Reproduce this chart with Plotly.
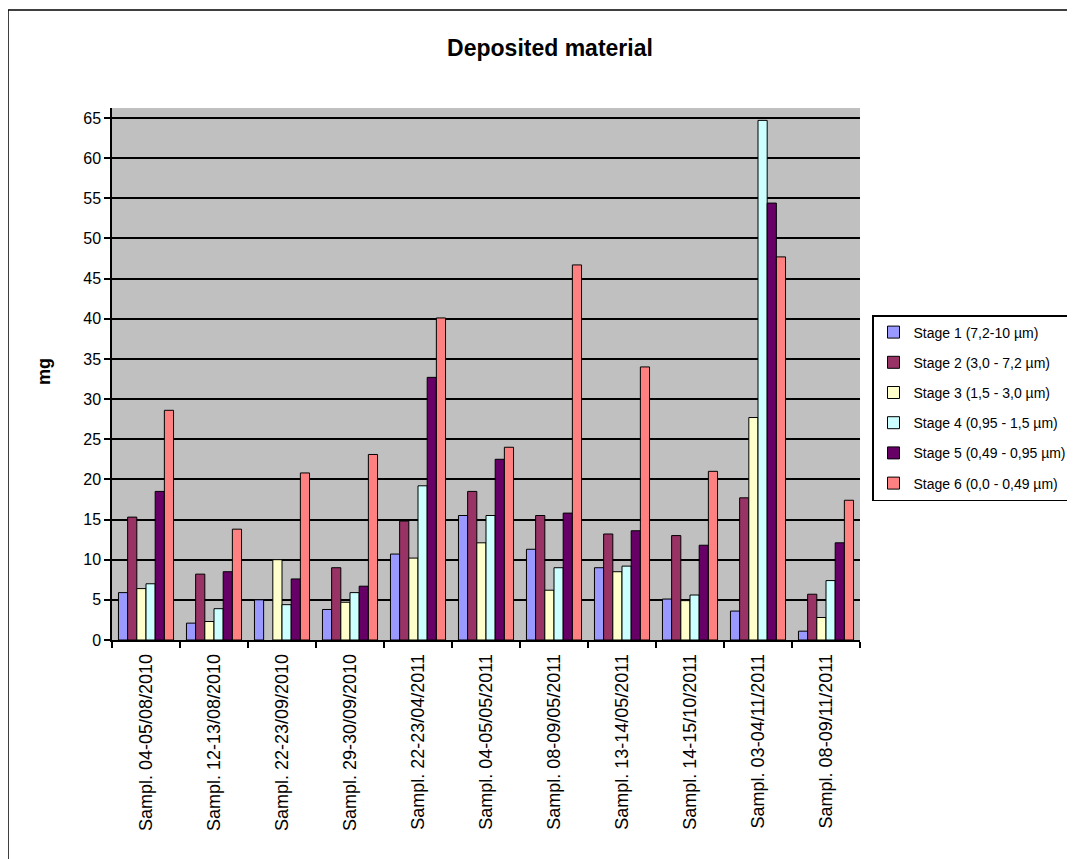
import plotly.graph_objects as go

categories = ["Sampl. 04-05/08/2010", "Sampl. 12-13/08/2010", "Sampl. 22-23/09/2010",
              "Sampl. 29-30/09/2010", "Sampl. 22-23/04/2011", "Sampl. 04-05/05/2011",
              "Sampl. 08-09/05/2011", "Sampl. 13-14/05/2011", "Sampl. 14-15/10/2011",
              "Sampl. 03-04/11/2011", "Sampl. 08-09/11/2011"]

series_names = ["Stage 1 (7,2-10 µm)", "Stage 2 (3,0 - 7,2 µm)", "Stage 3 (1,5 - 3,0 µm)",
                "Stage 4 (0,95 - 1,5 µm)", "Stage 5 (0,49 - 0,95 µm)", "Stage 6 (0,0 - 0,49 µm)"]

stage1 = [5.9, 2.1, 5.0, 3.8, 10.7, 15.5, 11.3, 9.0, 5.1, 3.6, 1.1]
stage2 = [15.3, 8.2, None, 9.0, 14.8, 18.5, 15.5, 13.2, 13.0, 17.7, 5.7]
stage3 = [6.4, 2.3, 10.0, 4.7, 10.2, 12.1, 6.2, 8.5, 4.9, 27.7, 2.8]
stage4 = [7.0, 3.9, 4.4, 5.9, 19.2, 15.5, 9.0, 9.2, 5.6, 64.7, 7.4]
stage5 = [18.5, 8.5, 7.6, 6.7, 32.7, 22.5, 15.8, 13.6, 11.8, 54.4, 12.1]
stage6 = [28.6, 13.8, 20.8, 23.1, 40.1, 24.0, 46.7, 34.0, 21.0, 47.7, 17.4]

colors = ["#9999FF", "#993366", "#FFFFCC", "#CCFFFF", "#660066", "#FF8080"]
all_series = [stage1, stage2, stage3, stage4, stage5, stage6]

FONT = "Liberation Sans, Arial, sans-serif"

fig = go.Figure()
for i, (name, vals, col) in enumerate(zip(series_names, all_series, colors)):
    fig.add_trace(go.Bar(x=categories, y=vals, name=name, legendgroup=f"g{i}",
                         marker=dict(color=col, line=dict(color="black", width=1))))

# the page is rendered with an 8px body offset
W, H = 1075, 859
L, T = 104, 100
pw, ph = 748, 532
R = W - L - pw
B = H - T - ph

def rx(px):  # reference pixel -> paper x
    return (px - 112) / pw

def ry(py):  # reference pixel -> paper y
    return (640 - py) / ph

fig.update_layout(
    width=W, height=H,
    margin=dict(l=L, r=R, t=T, b=B, autoexpand=False),
    paper_bgcolor="white",
    plot_bgcolor="#C0C0C0",
    barmode="group",
    bargap=0.19,
    bargroupgap=0,
    font=dict(family=FONT, color="black"),
    title=dict(text="<b>Deposited material</b>", x=rx(550), xanchor="center", xref="paper",
               y=1 - 40 / H, yanchor="middle", font=dict(size=23, family=FONT)),
    legend=dict(x=rx(872), y=ry(315), xanchor="left", yanchor="top",
                bordercolor="black", borderwidth=1.5, bgcolor="white",
                font=dict(size=14, family=FONT), tracegroupgap=9,
                traceorder="grouped", itemwidth=30),
    xaxis=dict(type="category", tickangle=-90, tickson="boundaries",
               ticks="outside", ticklen=6, tickcolor="black", tickwidth=1.5,
               showline=True, linecolor="black", linewidth=1.5,
               ticklabelstandoff=5,
               tickfont=dict(size=18, family=FONT), showgrid=False),
    yaxis=dict(range=[0, 66.24], tickvals=list(range(0, 70, 5)),
               ticks="outside", ticklen=6, tickcolor="black", tickwidth=1.5,
               showline=True, linecolor="black", linewidth=1.5,
               gridcolor="black", gridwidth=1.5,
               tickfont=dict(size=16, family=FONT), zeroline=False),
    annotations=[dict(text="<b>mg</b>", x=rx(32), y=ry(372), xref="paper", yref="paper",
                      textangle=-90, showarrow=False, font=dict(size=18, family=FONT))],
    shapes=[dict(type="rect", xref="paper", yref="paper",
                 x0=rx(8), x1=rx(1100), y0=ry(900), y1=ry(10),
                 line=dict(color="black", width=1.5), fillcolor="rgba(0,0,0,0)",
                 layer="below")],
)

fig.write_html("out.html")
